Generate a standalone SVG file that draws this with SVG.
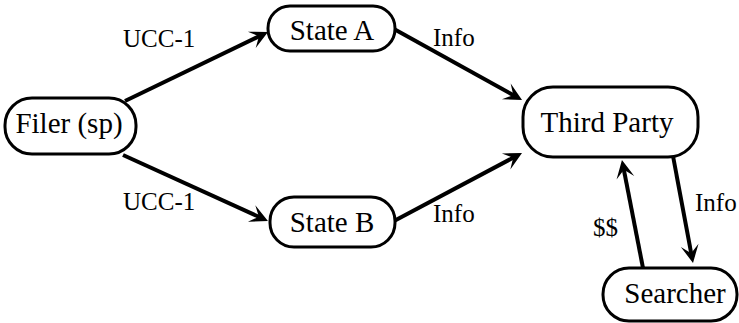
<svg xmlns="http://www.w3.org/2000/svg" width="739" height="323" viewBox="0 0 739 323">
  <style>
    .box { fill: #fff; stroke: #000; stroke-width: 3; }
    .edge { stroke: #000; stroke-width: 4; fill: none; }
  </style>
  <defs>
    <marker id="dart" markerUnits="userSpaceOnUse" markerWidth="30" markerHeight="24" refX="0" refY="0" viewBox="-14 -12 30 24" orient="auto" overflow="visible">
      <path d="M6,0 L-12,-9 L-4,0 L-12,9 Z" fill="#000"/>
    </marker>
  </defs>
  <rect width="739" height="323" fill="#fff"/>

  <!-- connectors -->
  <g id="edges">
    <line class="edge" x1="125" y1="101" x2="262.6" y2="34.6" marker-end="url(#dart)"/>
    <line class="edge" x1="123" y1="155" x2="262.5" y2="218.5" marker-end="url(#dart)"/>
    <line class="edge" x1="394" y1="29" x2="516.8" y2="97.1" marker-end="url(#dart)"/>
    <line class="edge" x1="394" y1="221" x2="516.7" y2="155.8" marker-end="url(#dart)"/>
    <line class="edge" x1="643" y1="268" x2="623.1" y2="165.9" marker-end="url(#dart)"/>
    <line class="edge" x1="673" y1="156" x2="691.9" y2="257.1" marker-end="url(#dart)"/>
  </g>

  <!-- edge labels -->
  <g id="labels">
    <text x="123" y="47" style="font-family: 'Liberation Serif', 'Times New Roman', serif; font-size: 25px">UCC-1</text>
    <text x="123" y="210" style="font-family: 'Liberation Serif', 'Times New Roman', serif; font-size: 25px">UCC-1</text>
    <text x="433" y="46" style="font-family: 'Liberation Serif', 'Times New Roman', serif; font-size: 25px">Info</text>
    <text x="433" y="222" style="font-family: 'Liberation Serif', 'Times New Roman', serif; font-size: 25px">Info</text>
    <text x="593" y="236" style="font-family: 'Liberation Serif', 'Times New Roman', serif; font-size: 25px">$$</text>
    <text x="695" y="211" style="font-family: 'Liberation Serif', 'Times New Roman', serif; font-size: 25px">Info</text>
  </g>

  <!-- nodes -->
  <g id="filer">
    <rect class="box" x="5" y="98" width="131" height="56" rx="27"/>
    <text x="69" y="133" text-anchor="middle" style="font-family: 'Liberation Serif', 'Times New Roman', serif; font-size: 29px">Filer (sp)</text>
  </g>
  <g id="state-a">
    <rect class="box" x="268" y="6" width="127" height="45" rx="22"/>
    <text x="332" y="40" text-anchor="middle" style="font-family: 'Liberation Serif', 'Times New Roman', serif; font-size: 29px">State A</text>
  </g>
  <g id="state-b">
    <rect class="box" x="270" y="197" width="125" height="50" rx="24"/>
    <text x="332" y="232" text-anchor="middle" style="font-family: 'Liberation Serif', 'Times New Roman', serif; font-size: 29px">State B</text>
  </g>
  <g id="third-party">
    <rect class="box" x="523" y="87" width="175" height="70" rx="30"/>
    <text x="607" y="132" text-anchor="middle" style="font-family: 'Liberation Serif', 'Times New Roman', serif; font-size: 29px">Third Party</text>
  </g>
  <g id="searcher">
    <rect class="box" x="603" y="268" width="134" height="53" rx="26"/>
    <text x="675" y="303" text-anchor="middle" style="font-family: 'Liberation Serif', 'Times New Roman', serif; font-size: 29px">Searcher</text>
  </g>
</svg>
